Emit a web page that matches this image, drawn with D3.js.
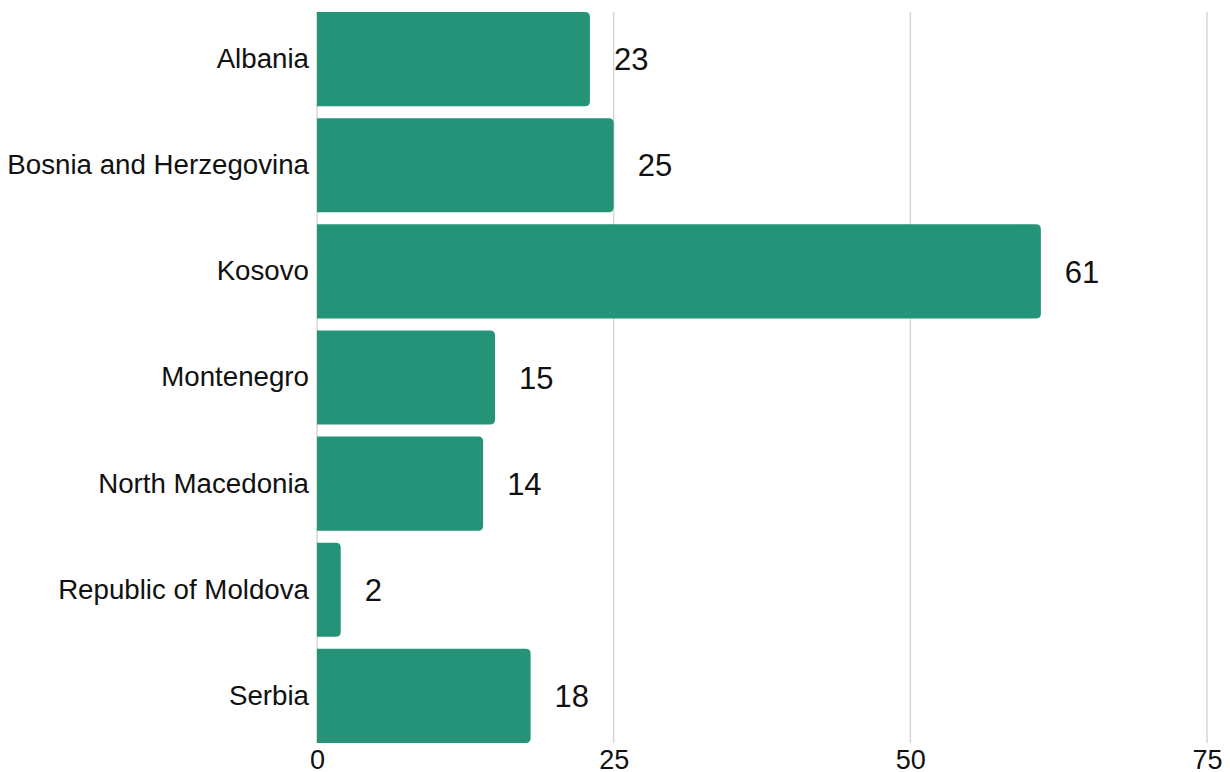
<!DOCTYPE html>
<html>
<head>
<meta charset="utf-8">
<script src="https://cdn.jsdelivr.net/npm/d3@7"></script>
<style>
  body { margin: 0; background: #fff; }
  text { font-family: "Liberation Sans", Arial, sans-serif; fill: #111; }
</style>
</head>
<body>
<div id="chart"></div>
<script>
// Data
var countries = ["Albania", "Bosnia and Herzegovina", "Kosovo", "Montenegro",
  "North Macedonia", "Republic of Moldova", "Serbia"];
var values = [23, 25, 61, 15, 14, 2, 18];
var ticks = [0, 25, 50, 75];

var svgWidth = 1230;
var svgHeight = 772;
var margin = { top: 12, right: 23, bottom: 29, left: 317 };
var width = svgWidth - margin.left - margin.right;
var height = svgHeight - margin.top - margin.bottom;

var svg = d3.select("#chart")
  .append("svg")
  .attr("width", svgWidth)
  .attr("height", svgHeight);

var chartGroup = svg.append("g")
  .attr("transform", `translate(${margin.left}, ${margin.top})`);

var x = d3.scaleLinear().domain([0, 75]).range([0, width]);
var y = d3.scaleBand()
  .domain(countries)
  .range([-6, height + 6])
  .paddingInner(0.113)
  .paddingOuter(0.0565);

// gridlines
chartGroup.selectAll(".grid")
  .data(ticks)
  .enter().append("line")
  .attr("x1", d => x(d)).attr("x2", d => x(d))
  .attr("y1", 0).attr("y2", height)
  .attr("stroke", "#d6d6d6")
  .attr("stroke-width", 1.5);

// bars, rounded on the right side
var r = 5;
function barPath(d, i) {
  var x0 = x(0), x1 = x(d), y0 = y(countries[i]), h = y.bandwidth();
  var rr = Math.min(r, (x1 - x0) / 2);
  return `M${x0},${y0}H${x1 - rr}Q${x1},${y0} ${x1},${y0 + rr}` +
    `V${y0 + h - rr}Q${x1},${y0 + h} ${x1 - rr},${y0 + h}H${x0}Z`;
}
chartGroup.selectAll(".bar")
  .data(values)
  .enter().append("path")
  .attr("d", barPath)
  .attr("fill", "#249378");

// value labels
chartGroup.selectAll(".val")
  .data(values)
  .enter().append("text")
  .attr("x", d => x(d) + 24)
  .attr("y", (d, i) => y(countries[i]) + y.bandwidth() / 2)
  .attr("dy", "0.36em")
  .style("font-size", "31px")
  .text(d => d);

// category labels
var leftAxis = d3.axisLeft(y).tickSize(0).tickPadding(8);
var yAxis = chartGroup.append("g").call(leftAxis);
yAxis.select(".domain").remove();
yAxis.selectAll("text")
  .style("font-size", "27.7px")
  .style("font-family", "Liberation Sans, Arial, sans-serif")
  .attr("fill", "#111");

// x axis tick labels
var bottomAxis = d3.axisBottom(x).tickValues(ticks).tickSize(0).tickPadding(7);
var xAxis = chartGroup.append("g")
  .attr("transform", `translate(0, ${height})`)
  .call(bottomAxis);
xAxis.select(".domain").remove();
xAxis.selectAll("text")
  .style("font-size", "27px")
  .style("font-family", "Liberation Sans, Arial, sans-serif")
  .attr("fill", "#111");
</script>
</body>
</html>
